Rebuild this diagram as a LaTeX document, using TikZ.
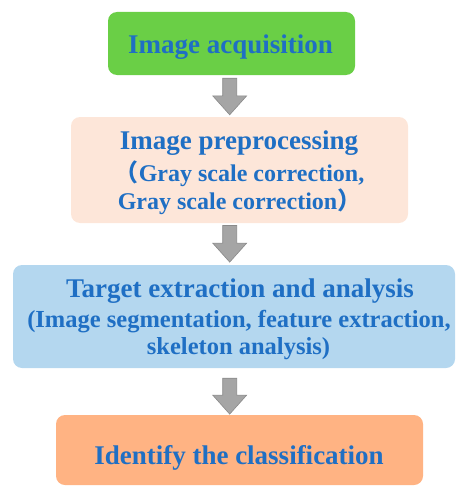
\documentclass[tikz,border=0pt]{standalone}
\usepackage{fontspec}
\setmainfont{Liberation Serif}
\newfontfamily\cjkparen{Noto Sans CJK SC}
\usetikzlibrary{calc}
\definecolor{boxgreen}{HTML}{6ACF46}
\definecolor{boxpeach}{HTML}{FDE6D9}
\definecolor{boxblue}{HTML}{B4D7EF}
\definecolor{boxorange}{HTML}{FFB383}
\definecolor{labelblue}{HTML}{1F6FC4}
\definecolor{arrowgray}{HTML}{A5A5A5}
\definecolor{arrowedge}{HTML}{8A8A8A}
\tikzset{
  stage/.style={rounded corners=9pt, inner sep=0pt},
  title/.style={anchor=base, inner sep=0pt, text=labelblue,
    font=\bfseries\fontsize{27}{30}\selectfont},
  detail/.style={anchor=base, inner sep=0pt, text=labelblue,
    font=\bfseries\fontsize{#1}{28}\selectfont},
  detail/.default=24,
  % thick grey block arrow drawn between two points
  blockarrow/.style={draw=arrowedge, fill=arrowgray, line width=0.6pt,
    to path={let \p1=(\tikztostart), \p2=(\tikztotarget) in
      (\x1-7pt,\y1) -- (\x1+7pt,\y1) -- (\x1+7pt,\y2+19pt) -- (\x1+17pt,\y2+19pt)
      -- (\x2,\y2) -- (\x1-17pt,\y2+19pt) -- (\x1-7pt,\y2+19pt) -- cycle}}
}
\begin{document}
\begin{tikzpicture}[x=1pt,y=-1pt]
\useasboundingbox (0,0) rectangle (457,487);
% stage boxes
\node[stage, fill=boxgreen, minimum width=247pt, minimum height=63pt]
  (acq) at (231.5,43.5) {};
\node[stage, fill=boxpeach, minimum width=337pt, minimum height=106pt]
  (pre) at (239.5,170) {};
\node[stage, fill=boxblue, minimum width=442pt, minimum height=103pt]
  (tgt) at (234,316.5) {};
\node[stage, fill=boxorange, minimum width=367pt, minimum height=70pt]
  (cls) at (239.5,450) {};
% labels
\node[title] (acqT) at (230.5,53) {Image acquisition};
\node[title] (preT) at (239,149.3) {Image preprocessing};
\node[detail] (preA) at (239.5,181.7) {{\cjkparen （}Gray scale correction,};
\node[detail] (preB) at (239.5,209.3) {Gray scale correction{\cjkparen ）}};
\node[title] (tgtT) at (240,297.3) {Target extraction and analysis};
\node[detail=24.5] (tgtA) at (239,327.3) {(Image segmentation, feature extraction,};
\node[detail=24.5] (tgtB) at (238.5,354.3) {skeleton analysis)};
\node[title] (clsT) at (239,464) {Identify the classification};
% flow arrows
\coordinate (ax) at (229.7,0);
\draw[blockarrow] ($(acq.south -| ax)+(0,3)$) to ($(pre.north -| ax)+(0,-2)$);
\draw[blockarrow] ($(pre.south -| ax)+(0,2.3)$) to ($(tgt.north -| ax)+(0,-2.7)$);
\draw[blockarrow] ($(tgt.south -| ax)+(0,10)$) to ($(cls.north -| ax)+(0,-0.7)$);
\end{tikzpicture}
\end{document}
